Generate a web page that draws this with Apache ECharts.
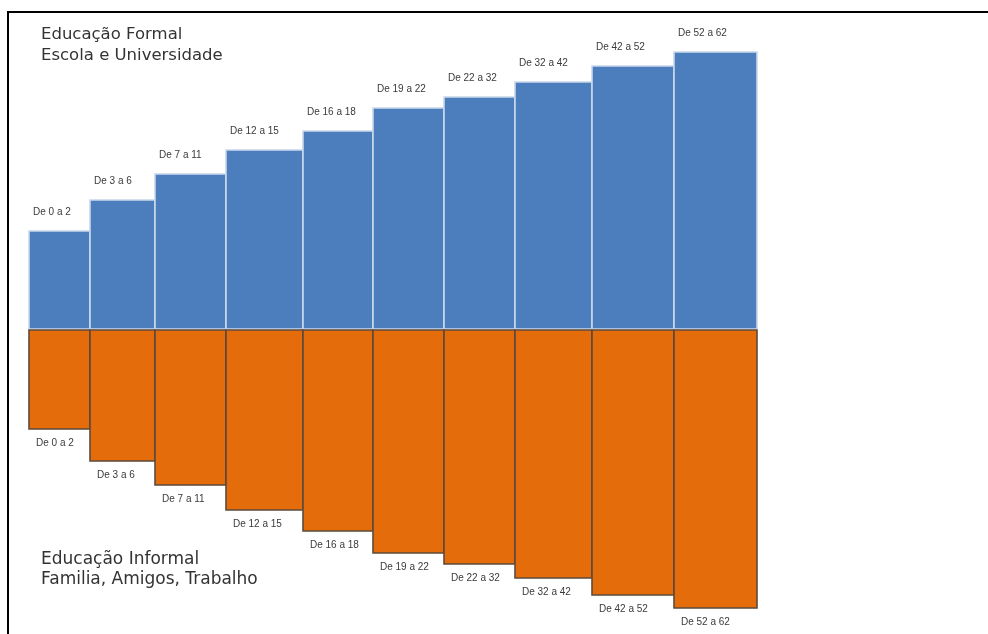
<!DOCTYPE html>
<html>
<head>
<meta charset="utf-8">
<script src="https://cdn.jsdelivr.net/npm/echarts@6/dist/echarts.min.js"></script>
<style>
  html, body { margin: 0; padding: 0; background: #fff; }
  #chart { width: 988px; height: 634px; }
</style>
</head>
<body>
<div id="chart"></div>
<script>
// Faixas etárias (anos)
const faixas = ['De 0 a 2', 'De 3 a 6', 'De 7 a 11', 'De 12 a 15', 'De 16 a 18',
                'De 19 a 22', 'De 22 a 32', 'De 32 a 42', 'De 42 a 52', 'De 52 a 62'];
// Largura relativa de cada faixa no eixo horizontal
const larguras = [61, 65, 71, 77, 70, 71, 71, 77, 82, 83];
// Educação formal (acima do eixo) e informal (abaixo do eixo)
const formal = [98, 129, 155, 179, 198, 221, 232, 247, 263, 277];
const informal = [99, 131, 155, 180, 201, 223, 234, 248, 265, 278];

// Início e fim de cada faixa, acumulando as larguras
const inicios = [];
const fins = [];
let acc = 0;
larguras.forEach(function (w) { inicios.push(acc); acc += w; fins.push(acc); });
const totalX = acc;

const formalData = faixas.map(function (f, i) { return [inicios[i], fins[i], formal[i], f]; });
const informalData = faixas.map(function (f, i) { return [inicios[i], fins[i], -informal[i], f]; });

const labelStyle = {
  fontFamily: 'Liberation Sans, Arial, sans-serif',
  fontSize: 10,
  fill: '#3a3a3a'
};

function makeRender(fill, stroke, up) {
  return function (params, api) {
    const x0 = api.value(0), x1 = api.value(1), v = api.value(2);
    const pA = api.coord([x0, v]);
    const pB = api.coord([x1, 0]);
    const left = pA[0], right = pB[0];
    const top = Math.min(pA[1], pB[1]);
    const bottom = Math.max(pA[1], pB[1]);
    const off = up ? -1 : 1;
    return {
      type: 'group',
      children: [
        {
          type: 'rect',
          shape: {
            x: left, y: up ? top : top + off,
            width: right - left, height: bottom - top
          },
          style: { fill: fill, stroke: stroke, lineWidth: 1.6 }
        },
        {
          type: 'text',
          style: Object.assign({
            text: api.value(3),
            x: left + (up ? 4 : 7),
            y: up ? top - 19 : bottom + 15,
            verticalAlign: 'middle',
            align: 'left'
          }, labelStyle)
        }
      ]
    };
  };
}

const chart = echarts.init(document.getElementById('chart'), null, { renderer: 'canvas' });

const tituloStyle = { fontFamily: 'DejaVu Sans', fontWeight: 'normal', color: '#333333' };

chart.setOption({
  backgroundColor: '#ffffff',
  animation: false,
  title: [
    {
      text: 'Educação Formal\nEscola e Universidade',
      left: 41, top: 24, padding: 0,
      textStyle: Object.assign({ fontSize: 16.5, lineHeight: 21 }, tituloStyle)
    },
    {
      text: 'Educação Informal\nFamilia, Amigos, Trabalho',
      left: 41, top: 549, padding: 0,
      textStyle: Object.assign({ fontSize: 17, lineHeight: 20.5 }, tituloStyle)
    }
  ],
  graphic: [
    {
      type: 'rect',
      shape: { x: 8, y: 12, width: 1000, height: 640 },
      style: { fill: 'none', stroke: '#000000', lineWidth: 2 },
      silent: true
    }
  ],
  grid: { left: 29, right: 988 - 757, top: 29, bottom: 5 },
  xAxis: {
    type: 'value', min: 0, max: totalX,
    show: false
  },
  yAxis: {
    type: 'value', min: -300, max: 300,
    show: false
  },
  series: [
    {
      name: 'Educação Formal',
      type: 'custom',
      renderItem: makeRender('#4c7ebd', '#c9d7ea', true),
      encode: { x: [0, 1], y: 2 },
      data: formalData
    },
    {
      name: 'Educação Informal',
      type: 'custom',
      renderItem: makeRender('#e46c0a', '#5e4a3b', false),
      encode: { x: [0, 1], y: 2 },
      data: informalData
    }
  ]
});
</script>
</body>
</html>
